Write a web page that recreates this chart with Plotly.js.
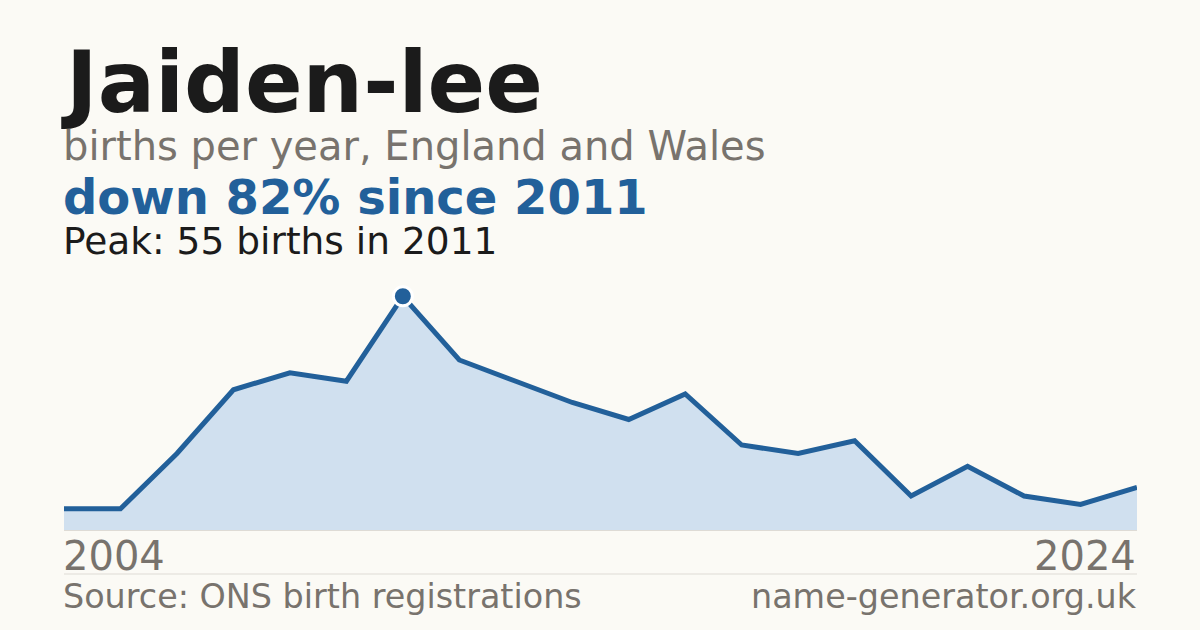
<!DOCTYPE html>
<html>
<head>
<meta charset="utf-8">
<script src="https://cdn.plot.ly/plotly-3.0.1.min.js"></script>
<style>
  html, body { margin: 0; padding: 0; background: #fbfaf5; }
  #chart { width: 1200px; height: 630px; }
</style>
</head>
<body>
<div id="chart"></div>
<script>
// data
const years  = [2005, 2006, 2007, 2008, 2009, 2010, 2011, 2012, 2013, 2014,
                2015, 2016, 2017, 2018, 2019, 2020, 2021, 2022, 2023, 2024];
const births = [5, 5, 18, 33, 37, 35, 55, 40, 35, 30,
                26, 32, 20, 18, 21, 8, 15, 8, 6, 10];
const yearLabels = ['2004', '2024'];

const nameText   = 'Jaiden-lee';
const subText    = 'births per year, England and Wales';
const sourceText = 'Source: ONS birth registrations';
const siteText   = 'name-generator.org.uk';

const BLUE = '#22609a';
const GREY = '#78736d';
const FONT = 'DejaVu Sans, sans-serif';

// plot area: top 275px, bottom 530px
const PT = 275, PB = 530;
const py = (px) => (PB - px) / (PB - PT);

const peakVal  = Math.max(...births);
const peakIdx  = births.indexOf(peakVal);
const peakYear = years[peakIdx];
const last     = births[births.length - 1];
const drop     = Math.round((1 - last / peakVal) * 100);

// text placed by its baseline (approx. cap-centre = baseline - 0.36 * size)
function _label(text, baseline, size, color, opts) {
  return Object.assign({
    xref: 'paper', yref: 'paper', x: 0, y: py(baseline - 0.36 * size),
    xanchor: 'left', yanchor: 'middle', showarrow: false, xshift: -3,
    text: text, font: { family: FONT, size: size, color: color },
  }, opts || {});
}

const traces = [
  {
    x: years, y: births, mode: 'lines', fill: 'tozeroy',
    fillcolor: '#d0e0ef', line: { color: BLUE, width: 5 },
    hoverinfo: 'skip',
  },
  {
    x: [peakYear], y: [peakVal], mode: 'markers',
    marker: { color: BLUE, size: 19, symbol: 'circle', line: { color: '#ffffff', width: 3 } },
    hoverinfo: 'skip',
  },
];

const layout = {
  width: 1200, height: 630,
  margin: { t: PT, r: 63, b: 630 - PB, l: 64 },
  paper_bgcolor: '#fbfaf5',
  plot_bgcolor: '#fbfaf5',
  showlegend: false,
  hovermode: false,
  xaxis: {
    range: [years[0], years[years.length - 1]],
    showgrid: false, zeroline: false, showticklabels: false, ticks: '',
    showline: true, linecolor: '#dedbd5', linewidth: 1,
  },
  yaxis: {
    range: [0, 60], showgrid: false, zeroline: false,
    showticklabels: false, ticks: '',
  },
  shapes: [
    { type: 'line', xref: 'paper', yref: 'paper', x0: 0, x1: 1, y0: py(574), y1: py(574),
      line: { color: '#dedbd5', width: 1 } },
  ],
  annotations: [
    _label('<b>' + nameText + '</b>', 113, 85, '#1b1b1b', { xshift: -5 }),
    _label(subText, 160, 40, GREY),
    _label('<b>down ' + drop + '% since ' + peakYear + '</b>', 214, 48, BLUE),
    _label('Peak: ' + peakVal + ' births in ' + peakYear, 254, 37.5, '#1b1b1b'),
    _label(yearLabels[0], 570, 40, GREY, { xref: 'x', x: years[0] }),
    _label(yearLabels[1], 570, 40, GREY,
           { xref: 'x', x: years[years.length - 1], xanchor: 'right', xshift: 1 }),
    _label(sourceText, 609, 33.4, GREY),
    _label(siteText, 609, 33.4, GREY, { x: 1, xanchor: 'right', xshift: 2 }),
  ],
};

Plotly.newPlot('chart', traces, layout, { displayModeBar: false, staticPlot: true });
</script>
</body>
</html>
